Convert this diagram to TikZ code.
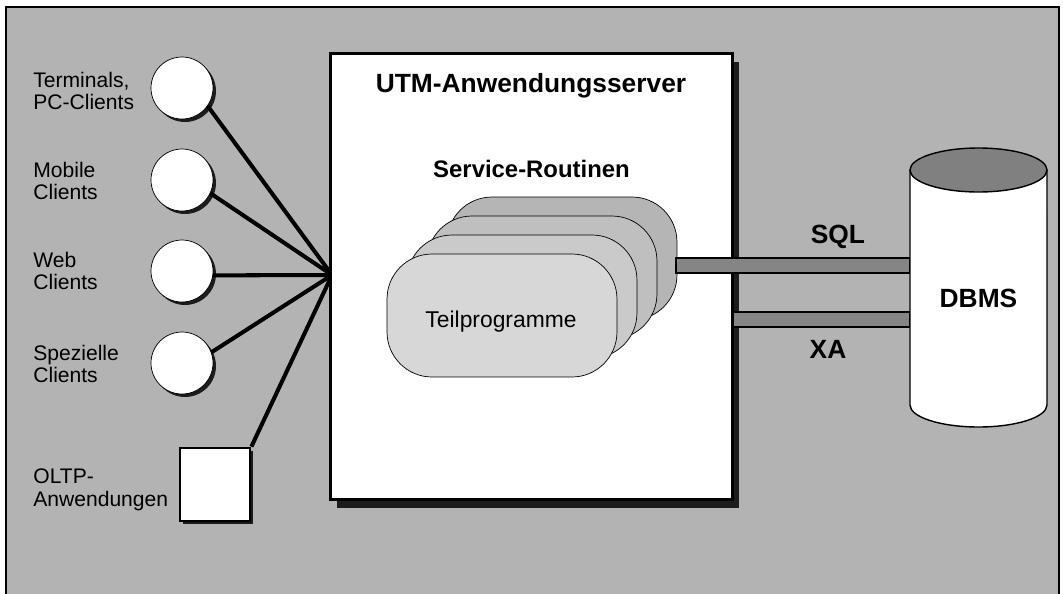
\documentclass[tikz,border=0pt]{standalone}
\usepackage{fontspec}
\setmainfont{Liberation Sans}
\usetikzlibrary{shadows}
\definecolor{bggray}{HTML}{B3B3B3}
\definecolor{bargray}{HTML}{858585}
\definecolor{dbtop}{HTML}{808080}
\definecolor{shadegray}{HTML}{1C1C1C}
\definecolor{stackA}{HTML}{D7D7D7}
\definecolor{stackB}{HTML}{CACACA}
\definecolor{stackC}{HTML}{BFBFBF}
\definecolor{stackD}{HTML}{B5B5B5}
\begin{document}
\begin{tikzpicture}[x=0.02cm,y=-0.02cm,
    client/.style={circle,draw,thin,fill=white,minimum size=1.24cm,inner sep=0pt,
      drop shadow={shadow xshift=0.06cm,shadow yshift=-0.06cm,fill=shadegray,opacity=1}},
    oltpbox/.style={draw,line width=1.6pt,fill=white,minimum width=1.4cm,minimum height=1.46cm,
      drop shadow={shadow xshift=0.06cm,shadow yshift=-0.06cm,fill=shadegray,opacity=1}},
    serverbox/.style={draw,line width=1.7pt,fill=white,minimum width=8.06cm,minimum height=8.94cm,
      drop shadow={shadow xshift=0.13cm,shadow yshift=-0.17cm,fill=shadegray,opacity=1}},
    stackbox/.style={draw,rounded corners=0.9cm,minimum width=4.6cm,minimum height=2.46cm},
    wire/.style={line width=2.3pt},
    bar/.style={draw,thick,fill=bargray},
    lbl/.style={anchor=west,align=left,inner sep=0pt,font=\fontsize{12}{13}\selectfont},
    bigbold/.style={anchor=base,inner sep=0pt,font=\fontsize{15}{18}\selectfont\bfseries}]

  \useasboundingbox (0,0) rectangle (1063,593);
  \draw [fill=bggray,thick] (6,7) rectangle (1059,600);

  % clients on the left
  \foreach\i/\y/\ly/\txt in {1/88/91/{Terminals,\\PC-Clients},2/180/181/{Mobile\\Clients},
      3/271/271/{Web\\Clients},4/363/364/{Spezielle\\Clients}}
  {
    \node [client] (c\i) at (182,\y) {};
    \node [lbl] (l\i) at (33,\ly) {\txt};
  }
  \node [oltpbox] (oltp) at (215,484.5) {};
  \node [lbl] (l5) at (33,489.5) {OLTP-\\Anwendungen};

  \coordinate (hub) at (332,275);
  \foreach\i/\a in {1/-35,2/-25,3/-8,4/20}
    \draw [wire] (c\i.\a) -- (hub);
  \draw [wire] (oltp.north east) -- (hub);

  % application server
  \node [serverbox] (srv) at (531.5,276.5) {};
  \node [bigbold] (title) at (531,92) {UTM-Anwendungsserver};
  \node [anchor=base,inner sep=0pt,font=\fontsize{13.6}{16}\selectfont\bfseries]
    (svc) at (531.5,177) {Service-Routinen};

  \foreach\k/\col in {3/stackD,2/stackC,1/stackB,0/stackA}
    \node [stackbox,fill=\col] (sr\k) at (502+20*\k,315.5-19*\k) {};
  \node [anchor=base,inner sep=0pt,font=\fontsize{13}{15}\selectfont]
    (tp) at (501,327) {Teilprogramme};

  % database
  \draw [bar] (676,258) rectangle (910,273);
  \draw [bar] (733,312) rectangle (910,327);
  \draw [fill=white,thick] (910,170) -- (910,405)
    arc [start angle=180,end angle=360,x radius=1.37cm,y radius=0.44cm]
    -- (1047,170) -- cycle;
  \draw [fill=dbtop,thick] (978.5,170) ellipse [x radius=1.37cm,y radius=0.44cm];

  \node [bigbold] (sql) at (838,243) {SQL};
  \node [bigbold] (xa) at (828,358) {XA};
  \node [bigbold] (dbms) at (978.5,307) {DBMS};

\end{tikzpicture}
\end{document}
